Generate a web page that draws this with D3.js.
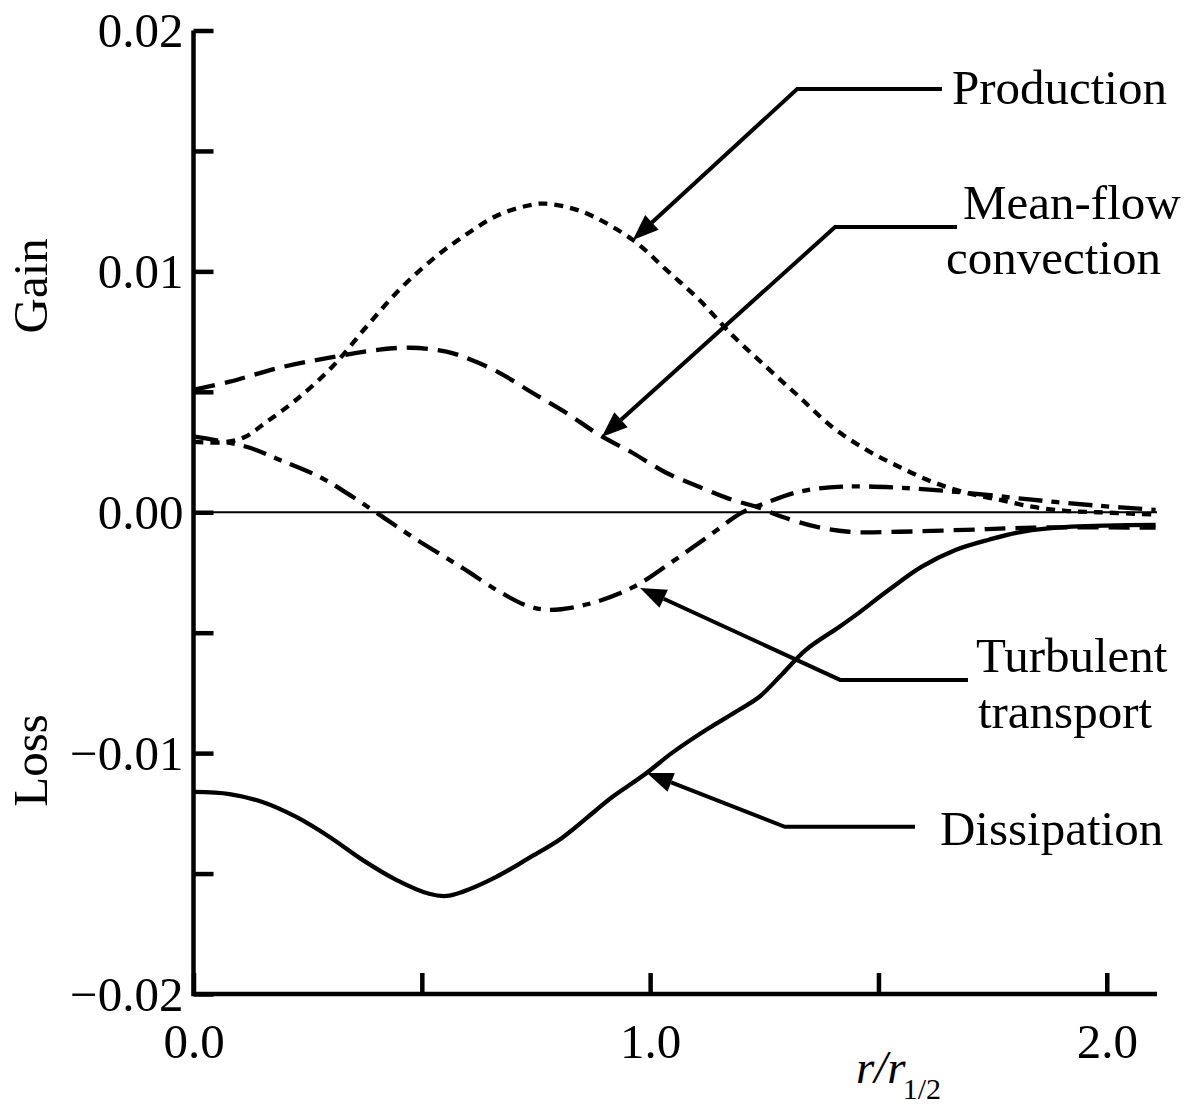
<!DOCTYPE html>
<html>
<head>
<meta charset="utf-8">
<script src="https://cdn.jsdelivr.net/npm/d3@7/dist/d3.min.js"></script>
<style>
  html, body { margin: 0; padding: 0; background: #fff; }
  svg { display: block; }
  text { font-family: "Liberation Serif", "Times New Roman", Times, serif; fill: #000; }
</style>
</head>
<body>
<svg id="chart" width="1189" height="1108"></svg>
<script>
// Turbulent kinetic energy budget across a round jet, r / r_1/2 vs. term magnitude.
const xTicks = [0, 0.5, 1.0, 1.5, 2.0];
const xTickLabels = ["0.0", "", "1.0", "", "2.0"];
const yTicks = [-0.02, -0.015, -0.01, -0.005, 0, 0.005, 0.01, 0.015, 0.02];
const yTickLabels = ["\u22120.02", "", "\u22120.01", "", "0.00", "", "0.01", "", "0.02"];

// [r/r_1/2, value]
const production = [
  [0.002, 0.00292], [0.060, 0.00290], [0.110, 0.00310], [0.160, 0.00375], [0.225, 0.00467],
  [0.304, 0.00604], [0.379, 0.00771], [0.451, 0.00924], [0.523, 0.01049], [0.597, 0.01153],
  [0.670, 0.01236], [0.742, 0.01277], [0.772, 0.01281], [0.851, 0.01248], [0.961, 0.01132],
  [1.035, 0.01007], [1.107, 0.00883], [1.179, 0.00737], [1.254, 0.00604], [1.326, 0.00480],
  [1.398, 0.00355], [1.473, 0.00260], [1.545, 0.00189], [1.617, 0.00127], [1.692, 0.00081],
  [1.764, 0.00052], [1.836, 0.00023], [1.910, 0.00006], [1.982, 0.00000], [2.107, -0.00010]
];
const meanFlowConvection = [
  [0.002, 0.00509], [0.079, 0.00542], [0.188, 0.00600], [0.298, 0.00642], [0.407, 0.00675],
  [0.475, 0.00683], [0.554, 0.00667], [0.605, 0.00635], [0.670, 0.00579], [0.742, 0.00496],
  [0.816, 0.00413], [0.888, 0.00322], [0.961, 0.00247], [1.035, 0.00164], [1.107, 0.00106],
  [1.179, 0.00052], [1.239, 0.00019], [1.289, -0.00019], [1.363, -0.00060], [1.435, -0.00081],
  [1.545, -0.00081], [1.691, -0.00073], [1.836, -0.00064], [2.107, -0.00064]
];
const turbulentTransport = [
  [0.002, 0.00314], [0.116, 0.00272], [0.188, 0.00218], [0.276, 0.00147], [0.341, 0.00073],
  [0.407, -0.00010], [0.479, -0.00102], [0.589, -0.00231], [0.670, -0.00330], [0.731, -0.00388],
  [0.779, -0.00405], [0.867, -0.00380], [0.965, -0.00309], [1.048, -0.00206], [1.123, -0.00106],
  [1.201, -0.00002], [1.254, 0.00039], [1.326, 0.00085], [1.420, 0.00106], [1.545, 0.00102],
  [1.691, 0.00081], [1.836, 0.00052], [1.982, 0.00027], [2.107, 0.00010]
];
const dissipation = [
  [0.002, -0.01161], [0.079, -0.01170], [0.151, -0.01203], [0.225, -0.01265], [0.298, -0.01348],
  [0.370, -0.01443], [0.444, -0.01526], [0.516, -0.01584], [0.554, -0.01593], [0.589, -0.01576],
  [0.663, -0.01514], [0.735, -0.01435], [0.807, -0.01352], [0.882, -0.01236], [0.917, -0.01182],
  [0.987, -0.01090], [1.048, -0.00999], [1.123, -0.00903], [1.195, -0.00820], [1.240, -0.00765],
  [1.290, -0.00670], [1.341, -0.00571], [1.414, -0.00476], [1.451, -0.00426], [1.523, -0.00322],
  [1.595, -0.00226], [1.670, -0.00156], [1.742, -0.00114], [1.814, -0.00081], [1.923, -0.00060],
  [2.107, -0.00052]
];

const seriesNames = ["Production", "Mean-flow convection", "Turbulent transport", "Dissipation"];
const seriesData = [production, meanFlowConvection, turbulentTransport, dissipation];

// Leader lines: arrow tip on the curve, elbow, and end of the horizontal run (data units).
const leaderTips   = [[0.962, 0.01130], [0.894, 0.00312], [0.978, -0.00314], [0.993, -0.01082]];
const leaderElbows = [[1.322, 0.01757], [1.405, 0.01184], [1.416, -0.00696], [1.295, -0.01306]];
const leaderEndsX  = [1.639, 1.672, 1.696, 1.580];
const labelLines   = [["Production"], ["Mean-flow", "convection"], ["Turbulent", "transport"], ["Dissipation"]];

// ---- layout & styles ----
const svg = d3.select("#chart");
const FONT = 49;
const x = d3.scaleLinear().domain([0, 2.11]).range([193.5, 1157]);
const y = d3.scaleLinear().domain([-0.02, 0.02]).range([994, 30.5]);

svg.append("rect").attr("width", 1189).attr("height", 1108).attr("fill", "#fff");

const styles = [
  { dash: "9,7",  width: 4.3 },          // dotted
  { dash: "21,10", width: 4.3 },         // dashed
  { dash: "24,9,8,9", width: 4.3 },      // dash-dot
  { dash: null,   width: 4.3 }           // solid
];

// zero reference line
svg.append("line")
  .attr("x1", x(0)).attr("x2", x.range()[1])
  .attr("y1", y(0)).attr("y2", y(0))
  .attr("stroke", "#000").attr("stroke-width", 2);

// axes
const yAxis = d3.axisLeft(y)
  .tickValues(yTicks)
  .tickSizeInner(-20).tickSizeOuter(0).tickPadding(10)
  .tickFormat((d, i) => yTickLabels[i]);
const gy = svg.append("g").attr("transform", `translate(${x(0)},0)`).call(yAxis);
gy.select(".domain").remove();
gy.selectAll(".tick line").attr("stroke", "#000").attr("stroke-width", 4.5);
gy.selectAll(".tick text")
  .attr("font-size", FONT).attr("font-family", "Liberation Serif").attr("dy", "0.33em");

const xAxis = d3.axisBottom(x)
  .tickValues(xTicks)
  .tickSizeInner(-21).tickSizeOuter(0).tickPadding(29)
  .tickFormat((d, i) => xTickLabels[i]);
const gx = svg.append("g").attr("transform", `translate(0,${y(-0.02)})`).call(xAxis);
gx.select(".domain").remove();
gx.selectAll(".tick line").attr("stroke", "#000").attr("stroke-width", 4.5);
gx.selectAll(".tick text")
  .attr("font-size", FONT).attr("font-family", "Liberation Serif");

// axis frame (left + bottom)
svg.append("path")
  .attr("d", `M${x(0)},${y(0.02)} V${y(-0.02)} H${x.range()[1]}`)
  .attr("fill", "none").attr("stroke", "#000").attr("stroke-width", 4.5)
  .attr("stroke-linejoin", "miter");

// curves
const line = d3.line().x(d => x(d[0])).y(d => y(d[1])).curve(d3.curveCatmullRom.alpha(0.5));
seriesData.forEach((data, i) => {
  svg.append("path")
    .datum(data)
    .attr("class", "series")
    .attr("data-name", seriesNames[i])
    .attr("d", line)
    .attr("fill", "none")
    .attr("stroke", "#000")
    .attr("stroke-width", styles[i].width)
    .attr("stroke-dasharray", styles[i].dash)
    .attr("stroke-linecap", "butt");
});

// leaders with arrowheads
const labelOffsets = [
  [[10, 15]],
  [[6, -8], [-11, 47]],
  [[8, -8], [10, 48]],
  [[25, 18]]
];
leaderTips.forEach((tip, i) => {
  const tx = x(tip[0]), ty = y(tip[1]);
  const ex = x(leaderElbows[i][0]), ey = y(leaderElbows[i][1]);
  const endX = x(leaderEndsX[i]);
  const ang = Math.atan2(ey - ty, ex - tx);
  const L = 26, W = 10;
  const bx = tx + L * Math.cos(ang), by = ty + L * Math.sin(ang);
  svg.append("path")
    .attr("d", `M${bx},${by} L${ex},${ey} H${endX}`)
    .attr("fill", "none").attr("stroke", "#000").attr("stroke-width", 4)
    .attr("stroke-linejoin", "miter");
  const px = -Math.sin(ang), py = Math.cos(ang);
  svg.append("path")
    .attr("d", `M${tx},${ty} L${bx + W * px},${by + W * py} L${bx - W * px},${by - W * py} Z`)
    .attr("fill", "#000");
  labelLines[i].forEach((txt, j) => {
    svg.append("text")
      .attr("x", endX + labelOffsets[i][j][0])
      .attr("y", ey + labelOffsets[i][j][1])
      .attr("font-size", FONT)
      .text(txt);
  });
});

// side labels
svg.append("text")
  .attr("transform", `translate(47,${y(0.0094)}) rotate(-90)`)
  .attr("text-anchor", "middle").attr("font-size", FONT)
  .text("Gain");
svg.append("text")
  .attr("transform", `translate(47,${y(-0.0103)}) rotate(-90)`)
  .attr("text-anchor", "middle").attr("font-size", FONT)
  .text("Loss");

// x-axis title r / r_1/2
const xt = svg.append("text").attr("x", 856).attr("y", 1083).attr("font-size", 47);
xt.append("tspan").attr("font-style", "italic").text("r/r");
xt.append("tspan").attr("font-size", 30).attr("dx", -3).attr("dy", 16).text("1/2");
</script>
</body>
</html>
